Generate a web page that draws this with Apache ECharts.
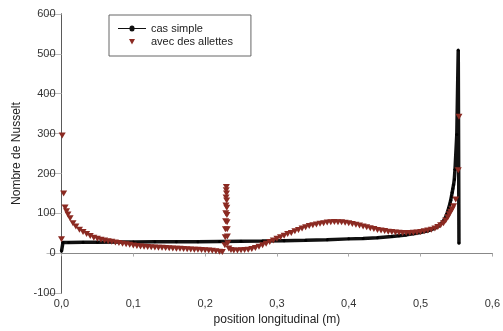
<!DOCTYPE html>
<html>
<head>
<meta charset="utf-8">
<script src="https://cdn.jsdelivr.net/npm/echarts@6/dist/echarts.min.js"></script>
<style>
  html, body { margin: 0; padding: 0; background: #fff; }
  #chart { width: 503px; height: 331px; }
</style>
</head>
<body>
<div id="chart"></div>
<script>
// Nusselt number along the plate: plain case vs. case with fins
const xTicks = [0, 0.1, 0.2, 0.3, 0.4, 0.5, 0.6];
const yTicks = [-100, 0, 100, 200, 300, 400, 500, 600];

const simpleX = [0, 0.002, 0.01, 0.03, 0.05, 0.08, 0.1, 0.13, 0.16, 0.19, 0.22, 0.25, 0.28, 0.31, 0.34,
  0.37, 0.4, 0.42, 0.44, 0.46, 0.47, 0.48, 0.49, 0.5, 0.51, 0.515, 0.52, 0.525, 0.528, 0.531, 0.534,
  0.537, 0.539, 0.541, 0.542, 0.543, 0.544, 0.545, 0.546, 0.547, 0.548, 0.5505, 0.5525, 0.5535];
const simpleY = [5, 27, 27, 27.3, 27.6, 28, 28.2, 28.5, 28.8, 29, 29.5, 30, 30.5, 31.5, 32.5,
  34, 36, 37, 39, 42, 44, 46, 49, 52, 56, 59, 63, 68, 73, 79, 87,
  100, 112, 125, 133, 142, 152, 162, 172, 185, 210, 298, 510, 25];

const finsX = [0, 0.001, 0.003, 0.005, 0.007, 0.009, 0.012, 0.016, 0.02, 0.025, 0.03, 0.035, 0.04,
  0.045, 0.05, 0.055, 0.06, 0.065, 0.07, 0.075, 0.08, 0.085, 0.09, 0.095, 0.1, 0.105, 0.11, 0.115,
  0.12, 0.125, 0.13, 0.135, 0.14, 0.145, 0.15, 0.155, 0.16, 0.165, 0.17, 0.175, 0.18, 0.185, 0.19,
  0.195, 0.2, 0.205, 0.21, 0.215, 0.22, 0.224, 0.2275, 0.228, 0.2283, 0.2286, 0.2288, 0.229, 0.2292,
  0.2294, 0.2296, 0.2298, 0.23, 0.2302, 0.2304, 0.2306, 0.2308, 0.231, 0.2315, 0.233, 0.236, 0.24,
  0.245, 0.25, 0.255, 0.26, 0.265, 0.27, 0.275, 0.28, 0.285, 0.29, 0.295, 0.3, 0.305, 0.31, 0.315,
  0.32, 0.325, 0.33, 0.335, 0.34, 0.345, 0.35, 0.355, 0.36, 0.365, 0.37, 0.375, 0.38, 0.385, 0.39,
  0.395, 0.4, 0.405, 0.41, 0.415, 0.42, 0.425, 0.43, 0.435, 0.44, 0.445, 0.45, 0.455, 0.46, 0.465,
  0.47, 0.475, 0.48, 0.485, 0.49, 0.495, 0.5, 0.505, 0.51, 0.515, 0.52, 0.524, 0.528, 0.532, 0.535,
  0.538, 0.54, 0.542, 0.544, 0.546, 0.549, 0.5525, 0.5535];
const finsY = [35, 295, 150, 115, 105, 97, 88, 75, 67, 59, 53, 48, 43,
  39, 36, 34, 32, 30, 28.5, 27, 25.5, 24, 22.5, 21, 19.5, 18, 17, 16,
  15.5, 15, 14.5, 14, 13.5, 13, 12.5, 12, 11.5, 11, 10.5, 10, 9.5, 9, 8.5,
  8, 7.5, 7, 6, 5, 4, 3, 20, 40, 60, 80, 100, 120, 140,
  158, 166, 150, 132, 114, 96, 78, 60, 42, 25, 12, 8, 7,
  7, 7.5, 8, 9, 10.5, 13, 16, 20, 24, 28, 32, 36, 40, 44, 48,
  51, 55, 58, 62, 65, 68, 70, 72, 74, 75.5, 77, 78, 78.5, 78, 77.5,
  76.5, 75, 73.5, 71.5, 69.5, 67, 65, 62.5, 60.5, 58.5, 57, 55.5, 54, 53, 52,
  51.5, 51, 51, 51, 51.5, 52, 53, 55, 57, 59, 62, 66, 70, 75, 82, 90,
  98, 104, 110, 118, 135, 208, 342, 25];

const pairs = (xs, ys) => xs.map((x, i) => [x, ys[i]]);

const finColor = '#8b2a22';
const triangleDown = 'path://M0,0 L10,0 L5,9 Z';
const axisGrey = '#5a5a5a';
const labelFont = { fontFamily: 'Liberation Sans', fontSize: 11, color: '#333' };

const chart = echarts.init(document.getElementById('chart'), null, { renderer: 'canvas' });
chart.setOption({
  animation: false,
  backgroundColor: '#fff',
  grid: { left: 61.5, right: 7.5, top: 14, bottom: 33, containLabel: false },
  legend: {
    orient: 'vertical',
    left: 109,
    top: 15,
    padding: [8, 18, 8, 9],
    itemGap: 2,
    itemWidth: 28,
    itemHeight: 12,
    borderColor: '#666',
    borderWidth: 1,
    backgroundColor: '#fff',
    textStyle: { fontFamily: 'Liberation Sans', fontSize: 11, color: '#222' },
    data: [
      {
        name: 'cas simple',
        icon: 'path://M0,5.5 L11.5,5.5 A2,2 0 1 1 16.5,5.5 L28,5.5 L28,6.5 L16.5,6.5 A2,2 0 1 1 11.5,6.5 L0,6.5 Z',
        itemStyle: { color: '#111' }
      },
      {
        name: 'avec des allettes',
        icon: 'path://M0,0 M11,3 L17,3 L14,8.5 Z M28,12',
        itemStyle: { color: finColor }
      }
    ]
  },
  xAxis: [
    {
      type: 'value', min: xTicks[0], max: xTicks[xTicks.length - 1], interval: 0.1,
      position: 'bottom',
      name: 'position longitudinal (m)', nameLocation: 'middle', nameGap: 14,
      nameTextStyle: { fontFamily: 'Liberation Sans', fontSize: 12, color: '#222' },
      axisLine: { lineStyle: { color: axisGrey, width: 1 } },
      axisTick: { inside: false, length: 3, lineStyle: { color: axisGrey } },
      axisLabel: Object.assign({ margin: 5, formatter: v => v.toFixed(1).replace('.', ',') }, labelFont),
      splitLine: { show: false }
    },
    {
      type: 'value', min: xTicks[0], max: xTicks[xTicks.length - 1], interval: 0.1,
      position: 'top',
      axisLine: { show: true, lineStyle: { color: '#888', width: 1 } },
      axisTick: { inside: true, length: 3, lineStyle: { color: '#aaa' } },
      axisLabel: { show: false },
      splitLine: { show: false }
    }
  ],
  yAxis: [
    {
      type: 'value', min: yTicks[0], max: yTicks[yTicks.length - 1], interval: 100,
      position: 'left',
      name: 'Nombre de Nusselt', nameLocation: 'middle', nameGap: 38, nameRotate: 90,
      nameTextStyle: { fontFamily: 'Liberation Sans', fontSize: 12, color: '#222' },
      axisLine: { show: true, lineStyle: { color: axisGrey, width: 1 } },
      axisTick: { inside: false, length: 4, lineStyle: { color: axisGrey } },
      axisLabel: Object.assign({ margin: 6 }, labelFont),
      splitLine: { show: false }
    },
    {
      type: 'value', min: yTicks[0], max: yTicks[yTicks.length - 1], interval: 100,
      position: 'right',
      axisLine: { show: true, lineStyle: { color: axisGrey, width: 1 } },
      axisTick: { inside: true, length: 15, lineStyle: { color: '#bbb' } },
      axisLabel: { show: false },
      splitLine: { show: false }
    }
  ],
  series: [
    {
      name: 'cas simple',
      type: 'line',
      data: pairs(simpleX, simpleY),
      symbol: 'circle',
      symbolSize: 3,
      showAllSymbol: true,
      itemStyle: { color: '#000' },
      lineStyle: { color: '#111', width: 3.5 },
      z: 2
    },
    {
      name: 'avec des allettes',
      type: 'scatter',
      data: pairs(finsX, finsY),
      symbol: triangleDown,
      symbolSize: [7, 6],
      itemStyle: { color: finColor, opacity: 1 },
      z: 3
    }
  ]
});
</script>
</body>
</html>
